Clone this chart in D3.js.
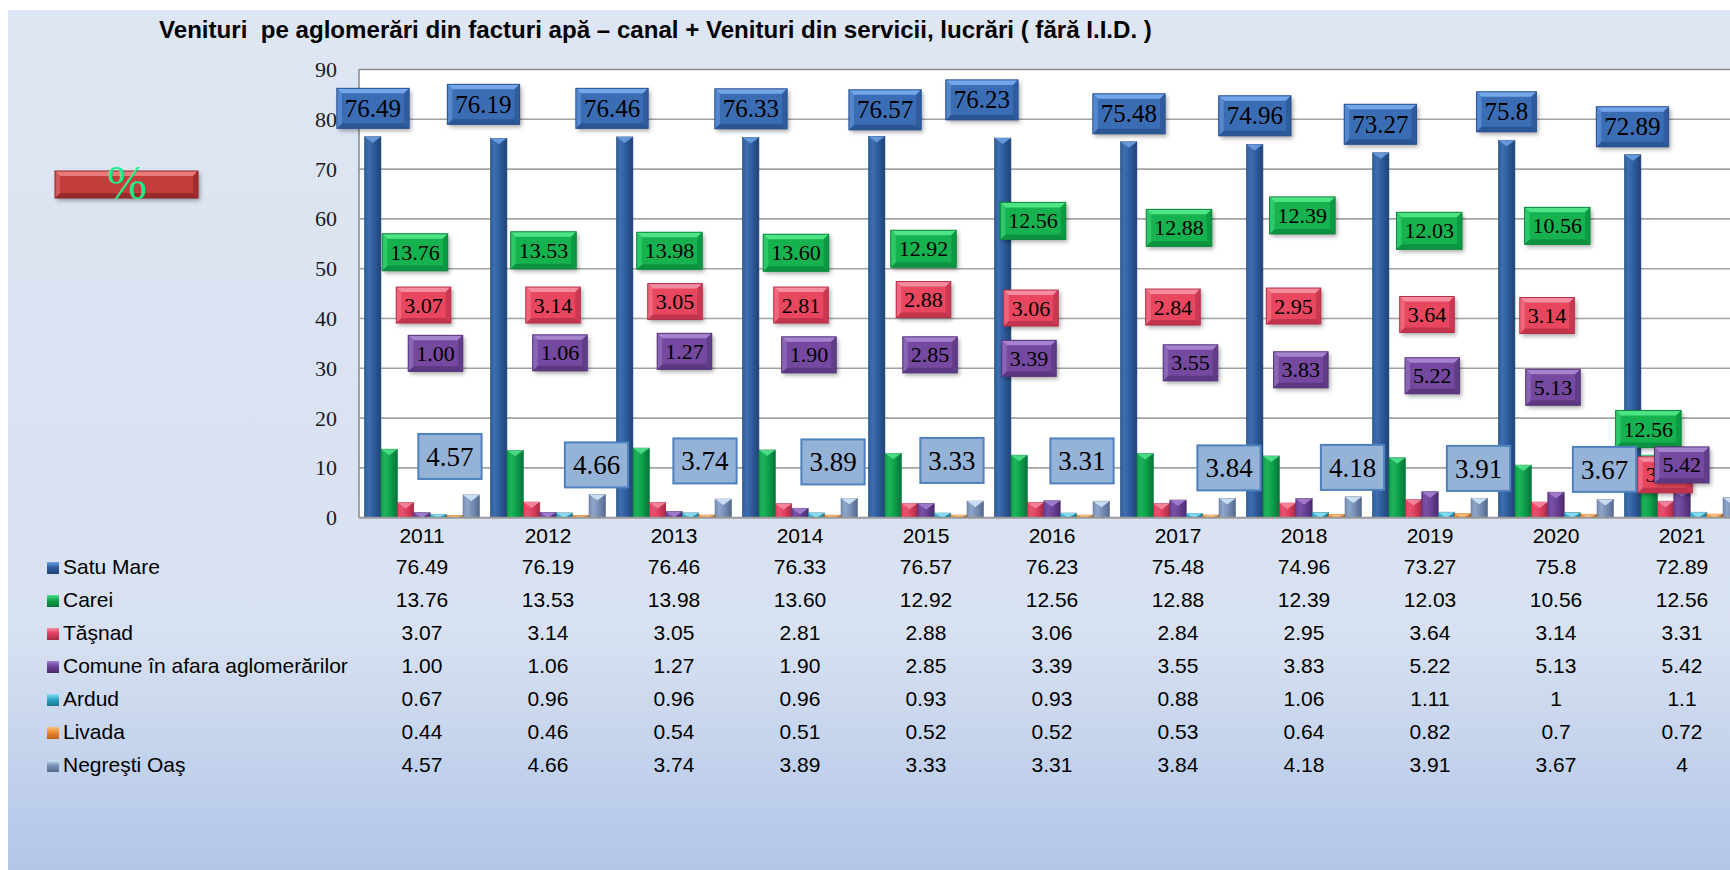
<!DOCTYPE html>
<html><head><meta charset="utf-8">
<script src="https://cdn.jsdelivr.net/npm/d3@7/dist/d3.min.js"></script>
<style>html,body{margin:0;padding:0;background:#fff;}svg{display:block;}</style>
</head><body>
<svg id="chart" width="1730" height="870"></svg>
<script>
// ---------------- DATA ----------------
const title = "Venituri  pe aglomerări din facturi apă – canal + Venituri din servicii, lucrări ( fără I.I.D. )";
const unitLabel = "%";
const years = ["2011","2012","2013","2014","2015","2016","2017","2018","2019","2020","2021"];
const seriesNames = ["Satu Mare","Carei","Tăşnad","Comune în afara aglomerărilor","Ardud","Livada","Negreşti Oaş"];
const satuMare = [76.49,76.19,76.46,76.33,76.57,76.23,75.48,74.96,73.27,75.8,72.89];
const carei    = [13.76,13.53,13.98,13.60,12.92,12.56,12.88,12.39,12.03,10.56,12.56];
const tasnad   = [3.07,3.14,3.05,2.81,2.88,3.06,2.84,2.95,3.64,3.14,3.31];
const comune   = [1.00,1.06,1.27,1.90,2.85,3.39,3.55,3.83,5.22,5.13,5.42];
const ardud    = [0.67,0.96,0.96,0.96,0.93,0.93,0.88,1.06,1.11,1,1.1];
const livada   = [0.44,0.46,0.54,0.51,0.52,0.52,0.53,0.64,0.82,0.7,0.72];
const negresti = [4.57,4.66,3.74,3.89,3.33,3.31,3.84,4.18,3.91,3.67,4];
const yTicks = [0,10,20,30,40,50,60,70,80,90];
const seriesValues = [satuMare, carei, tasnad, comune, ardud, livada, negresti];
// decimals used for printing each series (null = as is)
const seriesDecimals = [null, 2, 2, 2, null, null, null];

// ---------------- LABEL LAYOUT (manually placed in original) ----------------
// dx: fraction of category band from band start; y: value position of label centre
const labelLayout = {
  0: {dx:[.111,-.012,.008,.111,.175,-.056,.111,.110,.106,.107,.107],
      y:[82.2,83.0,82.2,82.1,81.9,83.9,81.1,80.7,79.0,81.5,78.5]},
  1: {dx:[.444,.464,.464,.468,.480,.349,.508,.487,.494,.510,.233],
      y:[53.3,53.7,53.6,53.2,54.0,59.6,58.2,60.7,57.6,58.6,17.8]},
  2: {dx:[.512,.540,.508,.508,.480,.333,.460,.417,.476,.429,.365],
      y:[42.7,42.7,43.4,42.7,43.8,42.1,42.3,42.5,40.8,40.6,8.6]},
  3: {dx:[.607,.595,.583,.571,.532,.317,.599,.475,.518,.476,.498],
      y:[33.0,33.1,33.4,32.7,32.7,32.0,31.1,29.7,28.5,26.2,10.6]},
  6: {dx:[.722,.885,.746,.762,.706,.738,.905,.885,.885,.885,1.016],
      y:[12.3,10.6,11.4,11.2,11.5,11.4,10.0,10.1,9.9,9.7,10.0]}
};

// ---------------- STYLE ----------------
const styles = [
  {base:"#2f5e9e", light:"#6b9fe0", dark:"#1f4275", lab:{fill:"#3b6db5", light:"#74a7ea", dark:"#28508f", fs:25, h:40}},
  {base:"#0ea24b", light:"#4fe08a", dark:"#07733a", lab:{fill:"#12b24f", light:"#4ee486", dark:"#0a8a3c", fs:22, h:37}},
  {base:"#e0405f", light:"#f58aa0", dark:"#a82a44", lab:{fill:"#e8465f", light:"#f58ca0", dark:"#b82e48", fs:22, h:36}},
  {base:"#6a4197", light:"#a47fd0", dark:"#4a2b6e", lab:{fill:"#744a9f", light:"#a583cf", dark:"#553479", fs:22, h:36}},
  {base:"#2ea4c4", light:"#8fe0f2", dark:"#1d7690"},
  {base:"#f08a2c", light:"#fbc07e", dark:"#b7601a"},
  {base:"#7890b8", light:"#d3e6f8", dark:"#55698e", lab:{flat:true, fill:"#95b3d7", stroke:"#4f81bd", fs:27, h:45}}
];

const W = 1730, H = 870;
const plot = {left:359, top:69.5, bottom:517.7, band:126};
const serif = "'Liberation Serif','Times New Roman',serif";
const sans = "'Liberation Sans',Arial,sans-serif";

const svg = d3.select("#chart");
const defs = svg.append("defs");

// background gradient
const bg = defs.append("linearGradient").attr("id","bg").attr("x1",0).attr("y1",0).attr("x2",0).attr("y2",1);
bg.append("stop").attr("offset","0%").attr("stop-color","#dfe6f3");
bg.append("stop").attr("offset","72%").attr("stop-color","#d8e1f1");
bg.append("stop").attr("offset","100%").attr("stop-color","#b2c6e8");
svg.append("rect").attr("x",0).attr("y",0).attr("width",W).attr("height",H).attr("fill","#fff");
svg.append("rect").attr("x",8).attr("y",10).attr("width",W-8).attr("height",H-10).attr("fill","url(#bg)");

// shadow filter
const f = defs.append("filter").attr("id","shadow").attr("x","-20%").attr("y","-20%").attr("width","150%").attr("height","160%");
f.append("feDropShadow").attr("dx",2).attr("dy",2.5).attr("stdDeviation",2).attr("flood-color","#000").attr("flood-opacity",0.35);

// bar gradients
styles.forEach((s,i)=>{
  const g = defs.append("linearGradient").attr("id","bar"+i).attr("x1",0).attr("x2",1).attr("y1",0).attr("y2",0);
  g.append("stop").attr("offset","0%").attr("stop-color",s.base);
  g.append("stop").attr("offset","25%").attr("stop-color",d3.interpolateRgb(s.base,s.light)(0.25));
  g.append("stop").attr("offset","55%").attr("stop-color",s.base);
  g.append("stop").attr("offset","100%").attr("stop-color",s.dark);
});

// title
svg.append("text").attr("x",159).attr("y",38).attr("font-family",sans).attr("font-weight","bold")
  .attr("font-size",24.1).attr("fill","#000").style("white-space","pre").text(title);

// scales
const x = d3.scaleBand().domain(years).range([plot.left, plot.left + years.length*plot.band]).padding(0);
const xi = d3.scaleBand().domain(d3.range(seriesNames.length)).range([5.5, plot.band-5.5]).padding(0);
const y = d3.scaleLinear().domain([0,90]).range([plot.bottom, plot.top]);

// plot area
svg.append("rect").attr("x",plot.left).attr("y",plot.top).attr("width",W-plot.left).attr("height",plot.bottom-plot.top).attr("fill","#fff");
svg.append("g").selectAll("line").data(yTicks.filter(t=>t>0)).join("line")
  .attr("x1",plot.left).attr("x2",W).attr("y1",d=>y(d)).attr("y2",d=>y(d))
  .attr("stroke",d=>d===90?"#8e8e8e":"#a3a3a3").attr("stroke-width",1.6);
svg.append("line").attr("x1",plot.left).attr("x2",plot.left).attr("y1",plot.top).attr("y2",plot.bottom).attr("stroke","#8e8e8e").attr("stroke-width",1.6);

// y axis labels
const yAxis = d3.axisLeft(y).tickValues(yTicks).tickSize(0).tickPadding(22).tickFormat(d3.format("d"));
const ya = svg.append("g").attr("transform",`translate(${plot.left},0)`).call(yAxis);
ya.select(".domain").remove();
ya.selectAll("text").attr("font-family",serif).attr("font-size",22).attr("fill","#1a1a1a");

// bars
const gBars = svg.append("g");
years.forEach((yr,ci)=>{
  seriesValues.forEach((vals,si)=>{
    const v = vals[ci];
    const bx = x(yr) + xi(si), bw = xi.bandwidth();
    const top = y(v), h = y(0)-y(v);
    const s = styles[si];
    gBars.append("rect").attr("x",bx).attr("y",top).attr("width",bw).attr("height",h)
      .attr("fill",`url(#bar${si})`).attr("stroke",s.dark).attr("stroke-width",0.6);
    const th = Math.min(6, h);
    gBars.append("path").attr("d",`M${bx},${top}L${bx+bw},${top}L${bx+bw/2},${top+th}Z`).attr("fill",s.light).attr("opacity",0.9);
  });
});
// bottom axis line
svg.append("line").attr("x1",plot.left).attr("x2",W).attr("y1",y(0)).attr("y2",y(0)).attr("stroke","#9a9a9a").attr("stroke-width",2);

// bevel box helper
function bevelBox(g, bx, by, w, h, c, b){
  g.append("rect").attr("x",bx).attr("y",by).attr("width",w).attr("height",h).attr("fill",c.fill).attr("filter","url(#shadow)");
  g.append("path").attr("d",`M${bx},${by}L${bx+w},${by}L${bx+w-b},${by+b}L${bx+b},${by+b}Z`).attr("fill",c.light);
  g.append("path").attr("d",`M${bx},${by+h}L${bx+w},${by+h}L${bx+w-b},${by+h-b}L${bx+b},${by+h-b}Z`).attr("fill",c.dark).attr("opacity",0.8);
  g.append("path").attr("d",`M${bx},${by}L${bx+b},${by+b}L${bx+b},${by+h-b}L${bx},${by+h}Z`).attr("fill",d3.interpolateRgb(c.fill,c.light)(0.45));
  g.append("path").attr("d",`M${bx+w},${by}L${bx+w-b},${by+b}L${bx+w-b},${by+h-b}L${bx+w},${by+h}Z`).attr("fill",d3.interpolateRgb(c.fill,c.dark)(0.6));
  g.append("rect").attr("x",bx).attr("y",by).attr("width",w).attr("height",h).attr("fill","none").attr("stroke",c.dark).attr("stroke-width",1);
}

// data labels
const fmt = (v,si)=> seriesDecimals[si]==null ? String(v) : v.toFixed(seriesDecimals[si]);
const gLab = svg.append("g");
[0,1,2,3,6].forEach(si=>{
  const L = labelLayout[si], st = styles[si].lab;
  years.forEach((yr,ci)=>{
    const cx = x(yr) + L.dx[ci]*x.bandwidth();
    const cy = y(L.y[ci]);
    const g = gLab.append("g");
    const txt = fmt(seriesValues[si][ci], si);
    const t = g.append("text").attr("x",cx).attr("y",cy).attr("dy","0.34em").attr("text-anchor","middle")
      .attr("font-family",serif).attr("font-size",st.fs).attr("fill","#000").text(txt);
    const tw = t.node().getComputedTextLength();
    const w = tw + 16, h = st.h;
    const bgG = g.insert("g","text");
    if (st.flat){
      bgG.append("rect").attr("x",cx-w/2).attr("y",cy-h/2).attr("width",w).attr("height",h)
        .attr("fill",st.fill).attr("stroke",st.stroke).attr("stroke-width",2);
    } else {
      bevelBox(bgG, cx-w/2, cy-h/2, w, h, st, 5);
    }
  });
});

// "%" box
const pg = svg.append("g");
bevelBox(pg, 55, 171, 143, 27, {fill:"#c43c3c", light:"#ea7b7b", dark:"#8f2525"}, 5);
pg.append("text").attr("x",127).attr("y",199).attr("text-anchor","middle").attr("font-family",serif)
  .attr("font-size",48).attr("fill","#19ee8c").text(unitLabel);

// data table
const gT = svg.append("g").attr("font-family",sans).attr("font-size",21).attr("fill","#000");
gT.selectAll("text.yr").data(years).join("text").attr("class","yr")
  .attr("x",d=>x(d)+x.bandwidth()/2).attr("y",535).attr("dy","0.36em").attr("text-anchor","middle").text(d=>d);
const rowY = d3.scalePoint().domain(d3.range(seriesNames.length)).range([566,764]);
seriesNames.forEach((name,si)=>{
  const ry = rowY(si), s = styles[si];
  const mg = defs.append("linearGradient").attr("id","mk"+si).attr("x1",0).attr("x2",0).attr("y1",0).attr("y2",1);
  mg.append("stop").attr("offset","0%").attr("stop-color",s.light);
  mg.append("stop").attr("offset","45%").attr("stop-color",s.base);
  mg.append("stop").attr("offset","100%").attr("stop-color",s.dark);
  gT.append("rect").attr("x",47).attr("y",ry-4).attr("width",12).attr("height",12).attr("fill",`url(#mk${si})`);
  gT.append("text").attr("x",63).attr("y",ry).attr("dy","0.36em").text(name);
  years.forEach((yr,ci)=>{
    gT.append("text").attr("x",x(yr)+x.bandwidth()/2).attr("y",ry).attr("dy","0.36em").attr("text-anchor","middle")
      .text(fmt(seriesValues[si][ci],si));
  });
});
</script>
</body></html>
